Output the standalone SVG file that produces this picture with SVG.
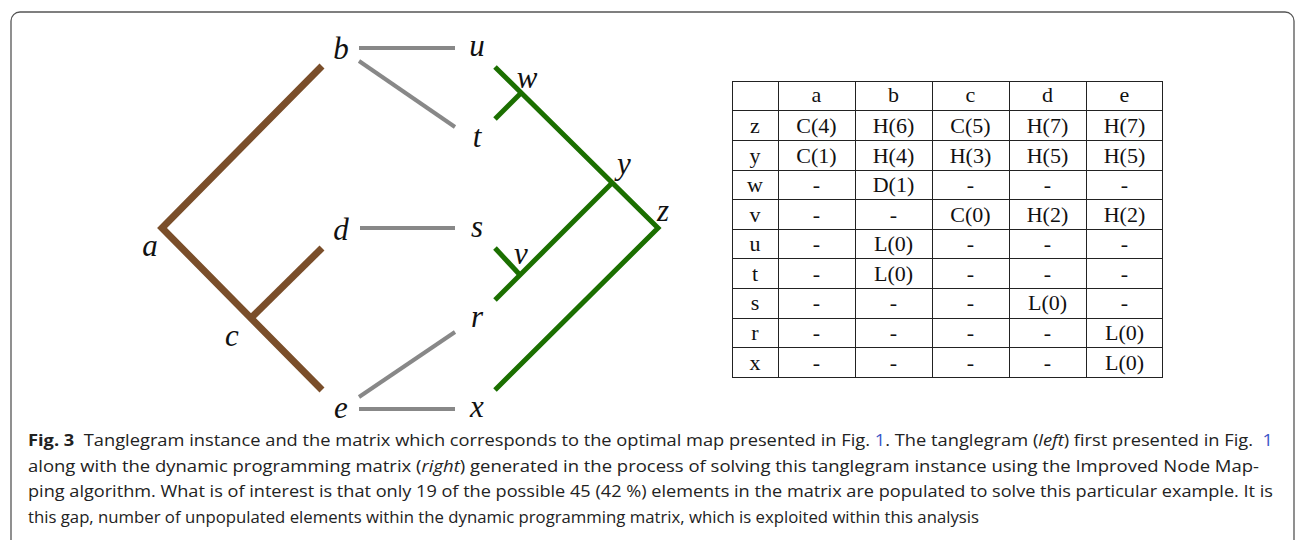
<svg xmlns="http://www.w3.org/2000/svg" width="1295" height="540" viewBox="0 0 1295 540">
<style>
.frame{fill:none;stroke:#555;stroke-width:1.3}
.host{fill:none;stroke:#7a4e2a;stroke-width:7;stroke-linecap:butt;stroke-linejoin:miter}
.para{fill:none;stroke:#1b6f00;stroke-width:5;stroke-linecap:butt;stroke-linejoin:miter}
.assoc{fill:none;stroke:#888;stroke-width:4;stroke-linecap:butt}
.lbl{font-family:"Liberation Serif",serif;font-style:italic;font-size:31px;fill:#111;text-anchor:middle}
.grid{fill:none;stroke:#222;stroke-width:1}
.cell{font-family:"Liberation Serif",serif;font-size:22px;fill:#111;text-anchor:middle}
.cap{font-family:"Open Sans",sans-serif;font-size:16.5px;fill:#222}
.capb{font-weight:bold}
.link{fill:#3a55c8}
</style>
<rect class="frame" x="11" y="12" width="1283" height="560" rx="9"/>
<g id="connectors">
<line class="assoc" x1="359" y1="48" x2="455" y2="48"/>
<line class="assoc" x1="359" y1="61" x2="455" y2="127"/>
<line class="assoc" x1="360" y1="228" x2="455" y2="228"/>
<line class="assoc" x1="359" y1="397" x2="455" y2="332"/>
<line class="assoc" x1="359" y1="409" x2="455" y2="409"/>
</g>
<g id="host-tree">
<path class="host" d="M322,66 L162,228 L322,390"/>
<path class="host" d="M251,318 L322,248"/>
</g>
<g id="parasite-tree">
<path class="para" d="M495,67 L658,228 L495,390"/>
<path class="para" d="M521,93 L495,119"/>
<path class="para" d="M612,183 L495,300"/>
<path class="para" d="M520,275 L495,248"/>
</g>
<g id="node-a"><text class="lbl" x="150" y="256">a</text></g>
<g id="node-b"><text class="lbl" x="341" y="59">b</text></g>
<g id="node-c"><text class="lbl" x="232" y="346">c</text></g>
<g id="node-d"><text class="lbl" x="341" y="240">d</text></g>
<g id="node-e"><text class="lbl" x="341" y="418">e</text></g>
<g id="node-u"><text class="lbl" x="477" y="56">u</text></g>
<g id="node-t"><text class="lbl" x="477" y="147">t</text></g>
<g id="node-s"><text class="lbl" x="477" y="237">s</text></g>
<g id="node-r"><text class="lbl" x="477" y="327">r</text></g>
<g id="node-x"><text class="lbl" x="477" y="417">x</text></g>
<g id="node-w"><text class="lbl" x="527" y="88">w</text></g>
<g id="node-y"><text class="lbl" x="624" y="174">y</text></g>
<g id="node-z"><text class="lbl" x="663" y="221">z</text></g>
<g id="node-v"><text class="lbl" x="521" y="264">v</text></g>
<g id="matrix">
<rect class="grid" x="732.5" y="81.5" width="430" height="296"/>
<path class="grid" d="M778.5,81.5V377.5 M855.5,81.5V377.5 M932.5,81.5V377.5 M1009.5,81.5V377.5 M1086.5,81.5V377.5
M732.5,110.5H1162.5 M732.5,140.5H1162.5 M732.5,170.5H1162.5 M732.5,199.5H1162.5 M732.5,229.5H1162.5 M732.5,258.5H1162.5 M732.5,288.5H1162.5 M732.5,318.5H1162.5 M732.5,347.5H1162.5"/>
<g class="cell">
<text x="816.5" y="102">a</text><text x="893.5" y="102">b</text><text x="970.5" y="102">c</text><text x="1047.5" y="102">d</text><text x="1124.5" y="102">e</text>
<text x="755" y="133">z</text><text x="816.5" y="133">C(4)</text><text x="893.5" y="133">H(6)</text><text x="970.5" y="133">C(5)</text><text x="1047.5" y="133">H(7)</text><text x="1124.5" y="133">H(7)</text>
<text x="755" y="163">y</text><text x="816.5" y="163">C(1)</text><text x="893.5" y="163">H(4)</text><text x="970.5" y="163">H(3)</text><text x="1047.5" y="163">H(5)</text><text x="1124.5" y="163">H(5)</text>
<text x="755" y="192">w</text><text x="816.5" y="192">-</text><text x="893.5" y="192">D(1)</text><text x="970.5" y="192">-</text><text x="1047.5" y="192">-</text><text x="1124.5" y="192">-</text>
<text x="755" y="222">v</text><text x="816.5" y="222">-</text><text x="893.5" y="222">-</text><text x="970.5" y="222">C(0)</text><text x="1047.5" y="222">H(2)</text><text x="1124.5" y="222">H(2)</text>
<text x="755" y="251">u</text><text x="816.5" y="251">-</text><text x="893.5" y="251">L(0)</text><text x="970.5" y="251">-</text><text x="1047.5" y="251">-</text><text x="1124.5" y="251">-</text>
<text x="755" y="281">t</text><text x="816.5" y="281">-</text><text x="893.5" y="281">L(0)</text><text x="970.5" y="281">-</text><text x="1047.5" y="281">-</text><text x="1124.5" y="281">-</text>
<text x="755" y="310">s</text><text x="816.5" y="310">-</text><text x="893.5" y="310">-</text><text x="970.5" y="310">-</text><text x="1047.5" y="310">L(0)</text><text x="1124.5" y="310">-</text>
<text x="755" y="340">r</text><text x="816.5" y="340">-</text><text x="893.5" y="340">-</text><text x="970.5" y="340">-</text><text x="1047.5" y="340">-</text><text x="1124.5" y="340">L(0)</text>
<text x="755" y="370">x</text><text x="816.5" y="370">-</text><text x="893.5" y="370">-</text><text x="970.5" y="370">-</text><text x="1047.5" y="370">-</text><text x="1124.5" y="370">L(0)</text>
</g>
</g>
<g id="caption">
<text class="cap" x="28" y="446" textLength="1245" lengthAdjust="spacingAndGlyphs"><tspan class="capb">Fig. 3</tspan>&#160; Tanglegram instance and the matrix which corresponds to the optimal map presented in Fig. <tspan class="link">1</tspan>. The tanglegram (<tspan font-style="italic">left</tspan>) first presented in Fig. &#160;<tspan class="link">1</tspan></text>
<text class="cap" x="28" y="472" textLength="1231" lengthAdjust="spacingAndGlyphs">along with the dynamic programming matrix (<tspan font-style="italic">right</tspan>) generated in the process of solving this tanglegram instance using the Improved Node Map-</text>
<text class="cap" x="28" y="497" textLength="1245" lengthAdjust="spacingAndGlyphs">ping algorithm. What is of interest is that only 19 of the possible 45 (42 %) elements in the matrix are populated to solve this particular example. It is</text>
<text class="cap" x="28" y="523" textLength="951" lengthAdjust="spacingAndGlyphs">this gap, number of unpopulated elements within the dynamic programming matrix, which is exploited within this analysis</text>
</g>
</svg>
